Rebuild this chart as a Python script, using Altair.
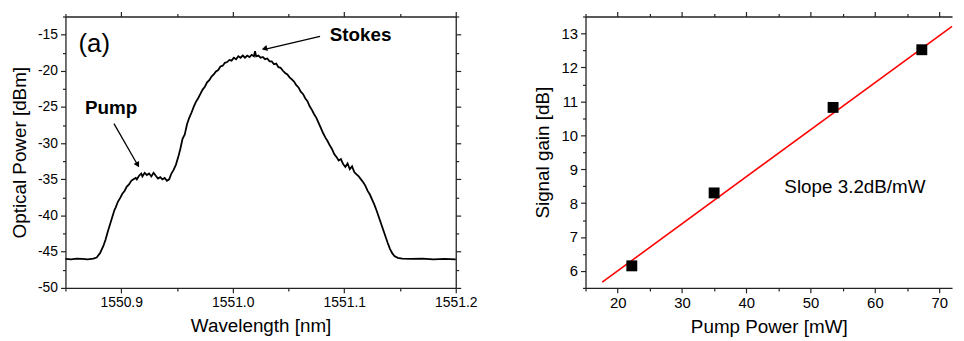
import altair as alt
import pandas as pd

# ---------------- data ----------------
wavelength = [
    1550.850, 1550.855, 1550.860, 1550.865, 1550.870, 1550.875, 1550.878, 1550.881,
    1550.884, 1550.886, 1550.888, 1550.890, 1550.892, 1550.894, 1550.895, 1550.897,
    1550.899, 1550.901, 1550.903, 1550.905, 1550.907, 1550.909, 1550.911, 1550.913,
    1550.914, 1550.916, 1550.918, 1550.919, 1550.921, 1550.923, 1550.925, 1550.927,
    1550.929, 1550.931, 1550.933, 1550.935, 1550.937, 1550.939, 1550.941, 1550.943,
    1550.945, 1550.947, 1550.949, 1550.951, 1550.953, 1550.955, 1550.957, 1550.959,
    1550.961, 1550.963, 1550.965, 1550.967, 1550.969, 1550.971, 1550.973, 1550.975,
    1550.977, 1550.979, 1550.981, 1550.983, 1550.985, 1550.987, 1550.989, 1550.991,
    1550.993, 1550.995, 1550.997, 1550.999, 1551.001, 1551.003, 1551.005, 1551.007,
    1551.009, 1551.011, 1551.013, 1551.015, 1551.017, 1551.019, 1551.020, 1551.021,
    1551.023, 1551.025, 1551.027, 1551.029, 1551.031, 1551.033, 1551.035, 1551.037,
    1551.039, 1551.041, 1551.043, 1551.045, 1551.047, 1551.049, 1551.051, 1551.053,
    1551.055, 1551.057, 1551.059, 1551.061, 1551.063, 1551.065, 1551.067, 1551.069,
    1551.071, 1551.073, 1551.075, 1551.077, 1551.079, 1551.081, 1551.083, 1551.085,
    1551.087, 1551.089, 1551.091, 1551.093, 1551.095, 1551.097, 1551.099, 1551.101,
    1551.103, 1551.105, 1551.107, 1551.109, 1551.111, 1551.113, 1551.115, 1551.117,
    1551.119, 1551.121, 1551.123, 1551.125, 1551.127, 1551.129, 1551.131, 1551.133,
    1551.135, 1551.137, 1551.139, 1551.141, 1551.143, 1551.145, 1551.148, 1551.152,
    1551.160, 1551.170, 1551.180, 1551.190, 1551.200,
]
optical_power = [
    -46.0, -46.05, -45.95, -46.0, -46.05, -45.95, -45.8, -45.2,
    -44.2, -43.3, -42.2, -41.2, -40.2, -39.2, -38.9, -38.1,
    -37.6, -37.0, -36.6, -36.0, -35.7, -35.2, -35.0, -34.8,
    -35.0, -34.5, -34.2, -34.6, -34.1, -34.4, -34.2, -34.6,
    -34.1, -34.5, -34.9, -34.7, -35.0, -34.8, -35.2, -35.0,
    -34.2, -33.7, -33.0, -32.0, -30.8, -29.4, -28.8, -27.4,
    -26.5, -25.8, -25.0, -24.3, -23.8, -23.2, -22.6, -22.2,
    -21.6, -21.3, -20.8, -20.5, -20.1, -19.9, -19.4, -19.3,
    -18.9, -18.8, -18.5, -18.6, -18.2, -18.4, -18.0, -18.2,
    -17.9, -18.2, -17.9, -18.1, -17.8, -18.0, -17.3, -18.0,
    -17.9, -18.2, -18.1, -18.4, -18.3, -18.7, -18.7, -19.1,
    -19.0, -19.5, -19.6, -20.0, -20.3, -20.5, -20.9, -21.2,
    -21.5, -22.0, -22.3, -22.9, -23.2, -23.8, -24.2, -24.9,
    -25.4, -26.0, -26.5, -27.2, -27.9, -28.6, -29.2, -29.7,
    -30.3, -30.8, -31.5, -31.9, -32.4, -32.2, -32.9, -33.3,
    -32.8, -33.6, -33.2, -34.0, -34.3, -34.6, -35.0, -35.4,
    -35.9, -36.6, -37.1, -37.8, -38.5, -39.3, -40.2, -41.1,
    -42.0, -42.9, -43.8, -44.6, -45.2, -45.6, -45.85, -45.95,
    -46.0, -45.95, -46.05, -46.0, -46.05,
]

pump_power = [22.2, 35.0, 53.5, 67.3]
signal_gain = [6.15, 8.3, 10.82, 12.52]
fit_power = [17.6, 72.0]
fit_gain = [5.67, 13.21]

left_x_ticks = [1550.85, 1550.9, 1550.95, 1551.0, 1551.05, 1551.1, 1551.15, 1551.2]
left_y_ticks = [-50, -47.5, -45, -42.5, -40, -37.5, -35, -32.5, -30, -27.5,
                -25, -22.5, -20, -17.5, -15, -12.5]
right_x_ticks = [15, 20, 25, 30, 35, 40, 45, 50, 55, 60, 65, 70]
right_y_ticks = [5.5, 6, 6.5, 7, 7.5, 8, 8.5, 9, 9.5, 10, 10.5, 11, 11.5, 12, 12.5, 13, 13.5]

# annotations
panel_label = ["(a)"]
pump_label = ["Pump"]
stokes_label = ["Stokes"]
slope_label = ["Slope 3.2dB/mW"]

FONT = "Liberation Sans"

spec_df = pd.DataFrame({"x": wavelength, "y": optical_power})
pts_df = pd.DataFrame({"x": pump_power, "y": signal_gain})
fit_df = pd.DataFrame({"x": fit_power, "y": fit_gain})


def cond_size(test, major, minor):
    return {"condition": {"test": test, "value": major}, "value": minor}


# ---------------- left panel ----------------
lx_test = "abs(datum.value*10 - round(datum.value*10)) < 1e-6"
ly_test = "datum.value % 5 === 0"
lxs = alt.Scale(domain=[1550.85, 1551.2], nice=False, zero=False)
lys = alt.Scale(domain=[-50, -12.5], nice=False, zero=False)

LX = alt.X("x:Q", scale=lxs, axis=alt.Axis(
    values=left_x_ticks, title="Wavelength [nm]", grid=False,
    labelExpr=f"({lx_test}) ? format(datum.value, '.1f') : ''",
    tickSize=cond_size(lx_test, 5, 3), labelFontSize=14, titleFontSize=19,
    labelPadding=3, titlePadding=7, labelFlush=False, labelOverlap=False))
LY = alt.Y("y:Q", scale=lys, axis=alt.Axis(
    values=left_y_ticks, title="Optical Power [dBm]", grid=False,
    labelExpr=f"({ly_test}) ? '' + datum.value : ''",
    tickSize=cond_size(ly_test, 5, 3), labelFontSize=14, titleFontSize=19,
    labelPadding=3, titlePadding=8, labelFlush=False, labelOverlap=False))

spec_line = alt.Chart(spec_df).mark_line(color="black", strokeWidth=1.8).encode(x=LX, y=LY)

a_txt = alt.Chart(pd.DataFrame({"x": [1550.8758], "y": [-16.3], "t": panel_label})).mark_text(
    font=FONT, fontSize=26, align="center", baseline="middle", color="black"
).encode(x=LX, y=LY, text="t:N")

bold_txt = alt.Chart(pd.DataFrame({
    "x": [1550.891, 1551.1147], "y": [-25.2, -15.07], "t": pump_label + stokes_label
})).mark_text(font=FONT, fontSize=19, fontWeight="bold", align="center",
              baseline="middle", color="black").encode(x=LX, y=LY, text="t:N")

arrows_df = pd.DataFrame({
    "x": [1550.8935, 1551.0783], "y": [-27.3, -15.25],
    "x2": [1550.9153, 1551.0277], "y2": [-33.15, -17.08],
})
arrow_lines = alt.Chart(arrows_df).mark_rule(color="black", strokeWidth=1.3).encode(
    x=LX, y=LY, x2="x2:Q", y2="y2:Q")
heads_df = pd.DataFrame({"x": [1550.9148, 1551.0285], "y": [-33.0, -16.95], "a": [150, 256]})
arrow_heads = alt.Chart(heads_df).mark_point(
    shape="triangle-up", filled=True, color="black", size=40, opacity=1
).encode(x=LX, y=LY, angle=alt.Angle("a:Q", scale=None))

left_main = alt.layer(spec_line, a_txt, bold_txt, arrow_lines, arrow_heads)
left_ghost = alt.Chart(spec_df).mark_line(opacity=0).encode(
    x=alt.X("x:Q", scale=lxs, axis=alt.Axis(
        orient="top", values=left_x_ticks, labels=False, title=None, grid=False,
        tickSize=cond_size(lx_test, 5, 3))),
    y=alt.Y("y:Q", scale=lys, axis=alt.Axis(
        orient="right", values=left_y_ticks, labels=False, title=None, grid=False,
        tickSize=cond_size(ly_test, 5, 3))),
)
left = alt.layer(left_main, left_ghost).resolve_scale(
    x="independent", y="independent").properties(width=394, height=274)

# ---------------- right panel ----------------
rx_test = "datum.value % 10 === 0"
ry_test = "datum.value % 1 === 0"
rxs = alt.Scale(domain=[15, 72], nice=False, zero=False)
rys = alt.Scale(domain=[5.5, 13.5], nice=False, zero=False)

RX = alt.X("x:Q", scale=rxs, axis=alt.Axis(
    values=right_x_ticks, title="Pump Power [mW]", grid=False,
    labelExpr=f"({rx_test}) ? '' + datum.value : ''",
    tickSize=cond_size(rx_test, 5, 3), labelFontSize=15, titleFontSize=19,
    labelPadding=3, titlePadding=7, labelFlush=False, labelOverlap=False))
RY = alt.Y("y:Q", scale=rys, axis=alt.Axis(
    values=right_y_ticks, title="Signal gain [dB]", grid=False,
    labelExpr=f"({ry_test}) ? '' + datum.value : ''",
    tickSize=cond_size(ry_test, 5, 3), labelFontSize=15, titleFontSize=19,
    labelPadding=3, titlePadding=9, labelFlush=False, labelOverlap=False))

fit_line = alt.Chart(fit_df).mark_line(color="#ff0000", strokeWidth=1.6, clip=False).encode(x=RX, y=RY)
squares = alt.Chart(pts_df).mark_point(
    shape="square", filled=True, color="black", size=121, opacity=1).encode(x=RX, y=RY)
slope_txt = alt.Chart(pd.DataFrame({"x": [56.9], "y": [8.48], "t": slope_label})).mark_text(
    font=FONT, fontSize=19, align="center", baseline="middle", color="black"
).encode(x=RX, y=RY, text="t:N")

right_main = alt.layer(fit_line, squares, slope_txt)
right_ghost = alt.Chart(fit_df).mark_line(opacity=0).encode(
    x=alt.X("x:Q", scale=rxs, axis=alt.Axis(
        orient="top", values=right_x_ticks, labels=False, title=None, grid=False,
        tickSize=cond_size(rx_test, 5, 3))),
    y=alt.Y("y:Q", scale=rys, axis=None),
)
right = alt.layer(right_main, right_ghost).resolve_scale(
    x="independent", y="independent").properties(width=370, height=274)

chart = alt.hconcat(left, right, spacing=56).properties(
    padding={"left": 2, "top": 0, "right": 0, "bottom": 0}
).configure_view(stroke=None).configure_axis(
    labelFont=FONT, titleFont=FONT, labelColor="black", titleColor="black",
    titleFontWeight="normal", domainColor="#222", tickColor="#222",
    domainWidth=1.3, tickWidth=1.2,
)

chart.save("out.html", embed_options={"renderer": "svg", "actions": False})
